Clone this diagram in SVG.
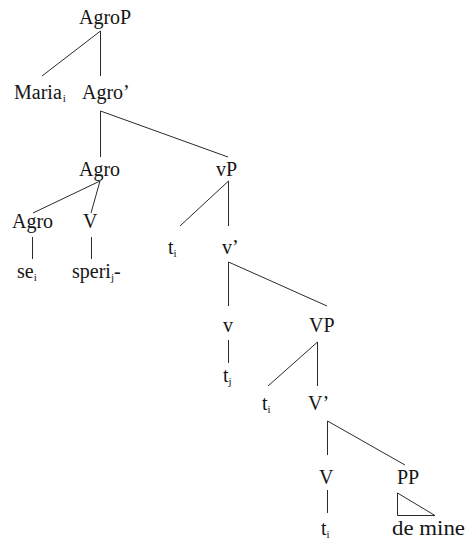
<svg xmlns="http://www.w3.org/2000/svg" width="467" height="540" viewBox="0 0 467 540">
  <style>
    text { font-family: 'Liberation Serif', 'DejaVu Serif', serif; font-size: 20px; fill: #151515; }
    .sub { font-size: 11px; }
    .edge { stroke: #2a2a2a; stroke-width: 1; fill: none; }
  </style>
  <rect width="467" height="540" fill="#ffffff"/>

  <!-- branches -->
  <g id="connectors">
    <line class="edge" x1="100.5" y1="31" x2="42" y2="76"/>
    <line class="edge" x1="100.5" y1="31" x2="100.5" y2="76"/>
    <line class="edge" x1="100.5" y1="111" x2="100.5" y2="157"/>
    <line class="edge" x1="100.5" y1="111" x2="228" y2="157"/>
    <line class="edge" x1="100" y1="181" x2="33" y2="213"/>
    <line class="edge" x1="100" y1="181" x2="91" y2="213"/>
    <line class="edge" x1="32.5" y1="237" x2="32.5" y2="259"/>
    <line class="edge" x1="91.5" y1="237" x2="91.5" y2="259"/>
    <line class="edge" x1="228.5" y1="181" x2="180" y2="226"/>
    <line class="edge" x1="228.5" y1="181" x2="228.5" y2="226"/>
    <line class="edge" x1="228.5" y1="262" x2="228.5" y2="306"/>
    <line class="edge" x1="228.5" y1="262" x2="327" y2="306"/>
    <line class="edge" x1="228.5" y1="340" x2="228.5" y2="363"/>
    <line class="edge" x1="317.5" y1="342" x2="268" y2="386"/>
    <line class="edge" x1="317.5" y1="342" x2="317.5" y2="386"/>
    <line class="edge" x1="327.5" y1="421" x2="327.5" y2="455"/>
    <line class="edge" x1="327.5" y1="421" x2="405" y2="465"/>
    <line class="edge" x1="327.5" y1="490" x2="327.5" y2="513"/>
    <!-- collapsed constituent under PP -->
    <polygon class="edge" points="397.5,493 397.5,515.5 435,515.5"/>
  </g>

  <g id="n-AgroP"><text x="79" y="24">AgroP</text></g>
  <g id="n-Maria"><text x="14" y="99">Maria<tspan class="sub" dx="1" dy="3">i</tspan></text></g>
  <g id="n-AgroBar"><text x="82" y="99">Agro’</text></g>
  <g id="n-Agro"><text x="79" y="176">Agro</text></g>
  <g id="n-vP"><text x="216" y="176">vP</text></g>
  <g id="n-Agro-head"><text x="12" y="228">Agro</text></g>
  <g id="n-V-head"><text x="83" y="228">V</text></g>
  <g id="n-se"><text x="17" y="278">se<tspan class="sub" dy="3">i</tspan></text></g>
  <g id="n-speri"><text x="72" y="278">speri<tspan class="sub" dy="3">j</tspan><tspan dy="-3">-</tspan></text></g>
  <g id="n-ti-1"><text x="168" y="254">t<tspan class="sub" dy="3">i</tspan></text></g>
  <g id="n-vBar"><text x="222" y="254">v’</text></g>
  <g id="n-v"><text x="223" y="332">v</text></g>
  <g id="n-VP"><text x="309" y="332">VP</text></g>
  <g id="n-tj"><text x="223" y="382">t<tspan class="sub" dy="3">j</tspan></text></g>
  <g id="n-ti-2"><text x="262" y="410">t<tspan class="sub" dy="3">i</tspan></text></g>
  <g id="n-VBar"><text x="308" y="410">V’</text></g>
  <g id="n-V"><text x="319" y="484">V</text></g>
  <g id="n-PP"><text x="397" y="484">PP</text></g>
  <g id="n-ti-3"><text x="321" y="535">t<tspan class="sub" dy="3">i</tspan></text></g>
  <g id="n-deMine"><text x="392" y="535" textLength="73" lengthAdjust="spacingAndGlyphs">de mine</text></g>
</svg>
